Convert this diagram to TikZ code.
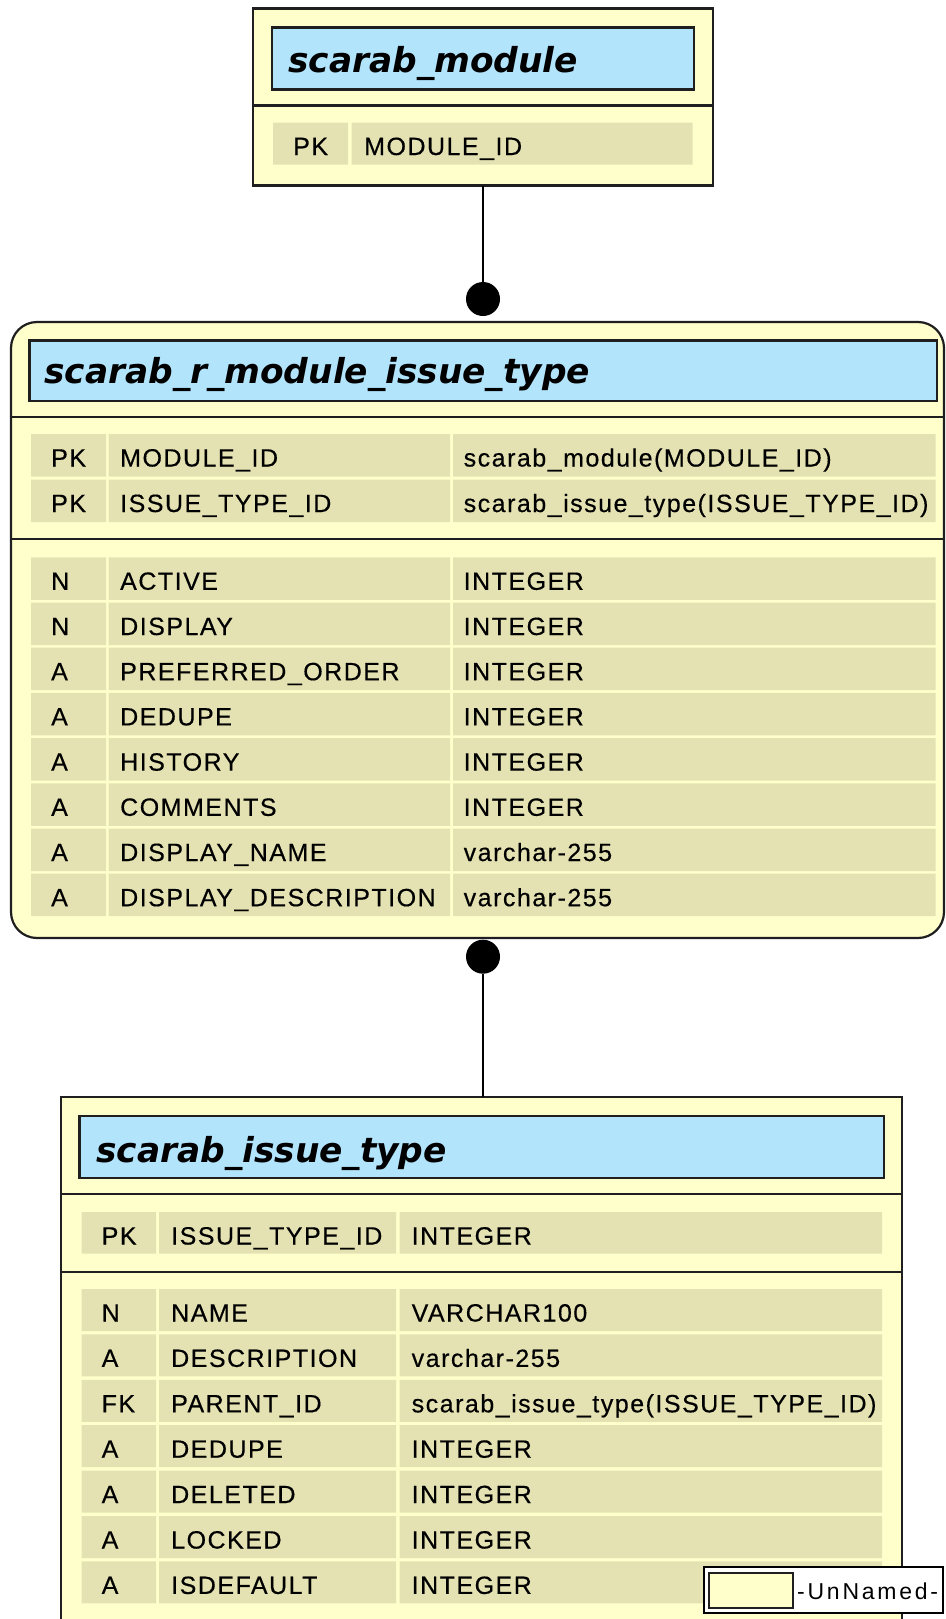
\documentclass[tikz,border=0pt]{standalone}
\usepackage{fontspec}
\setmainfont{DejaVu Sans}
\newfontfamily\colfont{Liberation Sans}[LetterSpace=6, FakeBold=0.4]
\newfontfamily\legfont{Liberation Sans}[LetterSpace=12]
\usetikzlibrary{positioning}

\definecolor{tblbg}{RGB}{255,255,204}
\definecolor{ttlbg}{RGB}{178,228,252}
\definecolor{cellbg}{RGB}{228,226,178}

% a box node from its two corners
\newcommand{\boxat}[6]{%
  \node[#1, minimum width={(#5)-(#3)}, minimum height={(#6)-(#4)}]
    (#2) at ({((#3)+(#5))/2},{((#4)+(#6))/2}) {};}

\begin{document}
\begin{tikzpicture}[x=1pt, y=-1pt,
    tbl/.style={draw=black!88, line width=2.2pt, fill=tblbg, inner sep=0pt, outer sep=0pt},
    ttlbox/.style={tbl, fill=ttlbg},
    ttl/.style={anchor=base west, inner sep=0pt, font=\fontsize{34.4}{40}\selectfont\bfseries\itshape},
    txt/.style={anchor=base west, inner sep=0pt, font=\colfont\fontsize{25}{29}\selectfont},
    sep/.style={draw=black!88, line width=2.2pt},
    dot/.style={circle, fill=black, inner sep=0pt, minimum size=34pt}]
\useasboundingbox (0,0) rectangle (945,1619);
\clip (0,0) rectangle (945,1619);

        % scarab_module
        \boxat{tbl}{module}{253}{8.5}{713}{185.5}
        \boxat{ttlbox}{moduleT}{272}{27.5}{694}{89.5}
        \node[ttl] (moduleN) at (288,73) {scarab\_module};
        \draw[sep] (253,105.5) -- (713,105.5);
        \fill[cellbg] (273,122.5) rectangle (348,164.5) (351.5,122.5) rectangle (692.5,164.5);
        \node[txt] (module-k) at (293,155) {PK};
        \node[txt] (module-n) at (364,155) {MODULE\_ID};

        % scarab_r_module_issue_type
        \boxat{tbl, rounded corners=26pt}{rmit}{11}{322}{944}{938}
        \boxat{ttlbox}{rmitT}{29.5}{340.5}{937}{401}
        \node[ttl] (rmitN) at (44,383.5) {scarab\_r\_module\_issue\_type};
        \draw[sep] (11,416.7) -- (944,416.7);
        \draw[sep] (11,539) -- (944,539);
        \foreach \nm/\ty [count=\i from 0] in
            {MODULE\_ID/scarab\_module(MODULE\_ID),
             ISSUE\_TYPE\_ID/scarab\_issue\_type(ISSUE\_TYPE\_ID)}{
          \pgfmathsetmacro\yt{434+45.5*\i}
          \fill[cellbg] (31,\yt) rectangle (106,\yt+42.5) (108.5,\yt) rectangle (450,\yt+42.5)
                        (453,\yt) rectangle (935.5,\yt+42.5);
          \node[txt] (rmit-p\i-k) at (51,\yt+32.5) {PK};
          \node[txt] (rmit-p\i-n) at (120,\yt+32.5) {\nm};
          \node[txt] (rmit-p\i-t) at (463.5,\yt+32.5) {\ty};
        }
        \foreach \k/\nm/\ty [count=\i from 0] in
            {N/ACTIVE/INTEGER, N/DISPLAY/INTEGER, A/PREFERRED\_ORDER/INTEGER,
             A/DEDUPE/INTEGER, A/HISTORY/INTEGER, A/COMMENTS/INTEGER,
             A/DISPLAY\_NAME/varchar-255, A/DISPLAY\_DESCRIPTION/varchar-255}{
          \pgfmathsetmacro\yt{557.3+45.2*\i}
          \fill[cellbg] (31,\yt) rectangle (106,\yt+42.5) (108.5,\yt) rectangle (450,\yt+42.5)
                        (453,\yt) rectangle (935.5,\yt+42.5);
          \node[txt] (rmit-d\i-k) at (51,\yt+32.5) {\k};
          \node[txt] (rmit-d\i-n) at (120,\yt+32.5) {\nm};
          \node[txt] (rmit-d\i-t) at (463.5,\yt+32.5) {\ty};
        }

        % scarab_issue_type
        \boxat{tbl}{itype}{61}{1097}{902}{1660}
        \boxat{ttlbox}{itypeT}{79.5}{1116}{884}{1178}
        \node[ttl] (itypeN) at (96,1162.5) {scarab\_issue\_type};
        \draw[sep] (61,1194) -- (902,1194);
        \draw[sep] (61,1271.7) -- (902,1271.7);
        \fill[cellbg] (81.5,1212) rectangle (156,1253.5) (159,1212) rectangle (396,1253.5)
                      (399.5,1212) rectangle (882,1253.5);
        \node[txt] (itype-pk-k) at (101.5,1244.5) {PK};
        \node[txt] (itype-pk-n) at (171,1244.5) {ISSUE\_TYPE\_ID};
        \node[txt] (itype-pk-t) at (411.5,1244.5) {INTEGER};
        \foreach \k/\nm/\ty [count=\i from 0] in
            {N/NAME/VARCHAR100, A/DESCRIPTION/varchar-255,
             FK/PARENT\_ID/scarab\_issue\_type(ISSUE\_TYPE\_ID),
             A/DEDUPE/INTEGER, A/DELETED/INTEGER, A/LOCKED/INTEGER, A/ISDEFAULT/INTEGER}{
          \pgfmathsetmacro\yt{1289+45.4*\i}
          \fill[cellbg] (81.5,\yt) rectangle (156,\yt+42) (159,\yt) rectangle (396,\yt+42)
                        (399.5,\yt) rectangle (882,\yt+42);
          \node[txt] (itype-d\i-k) at (101.5,\yt+32.5) {\k};
          \node[txt] (itype-d\i-n) at (171,\yt+32.5) {\nm};
          \node[txt] (itype-d\i-t) at (411.5,\yt+32.5) {\ty};
        }

        % legend
        \boxat{draw=black, line width=1.2pt, fill=white, inner sep=0pt, outer sep=0pt}{legend}{704}{1567}{943}{1613}
        \boxat{tbl, line width=2pt}{legendS}{709}{1573}{793}{1608}
        \node[txt, font=\legfont\fontsize{23}{27}\selectfont] (legendT) at (797,1599) {-UnNamed-};

        % relationships
        \node[dot] (dotA) at (483,299) {};
        \node[dot] (dotB) at (483,956.7) {};
        \draw[line width=2pt] (module.south) -- (dotA);
        \draw[line width=2pt] (dotB) -- (dotB |- itype.north);
\end{tikzpicture}
\end{document}
